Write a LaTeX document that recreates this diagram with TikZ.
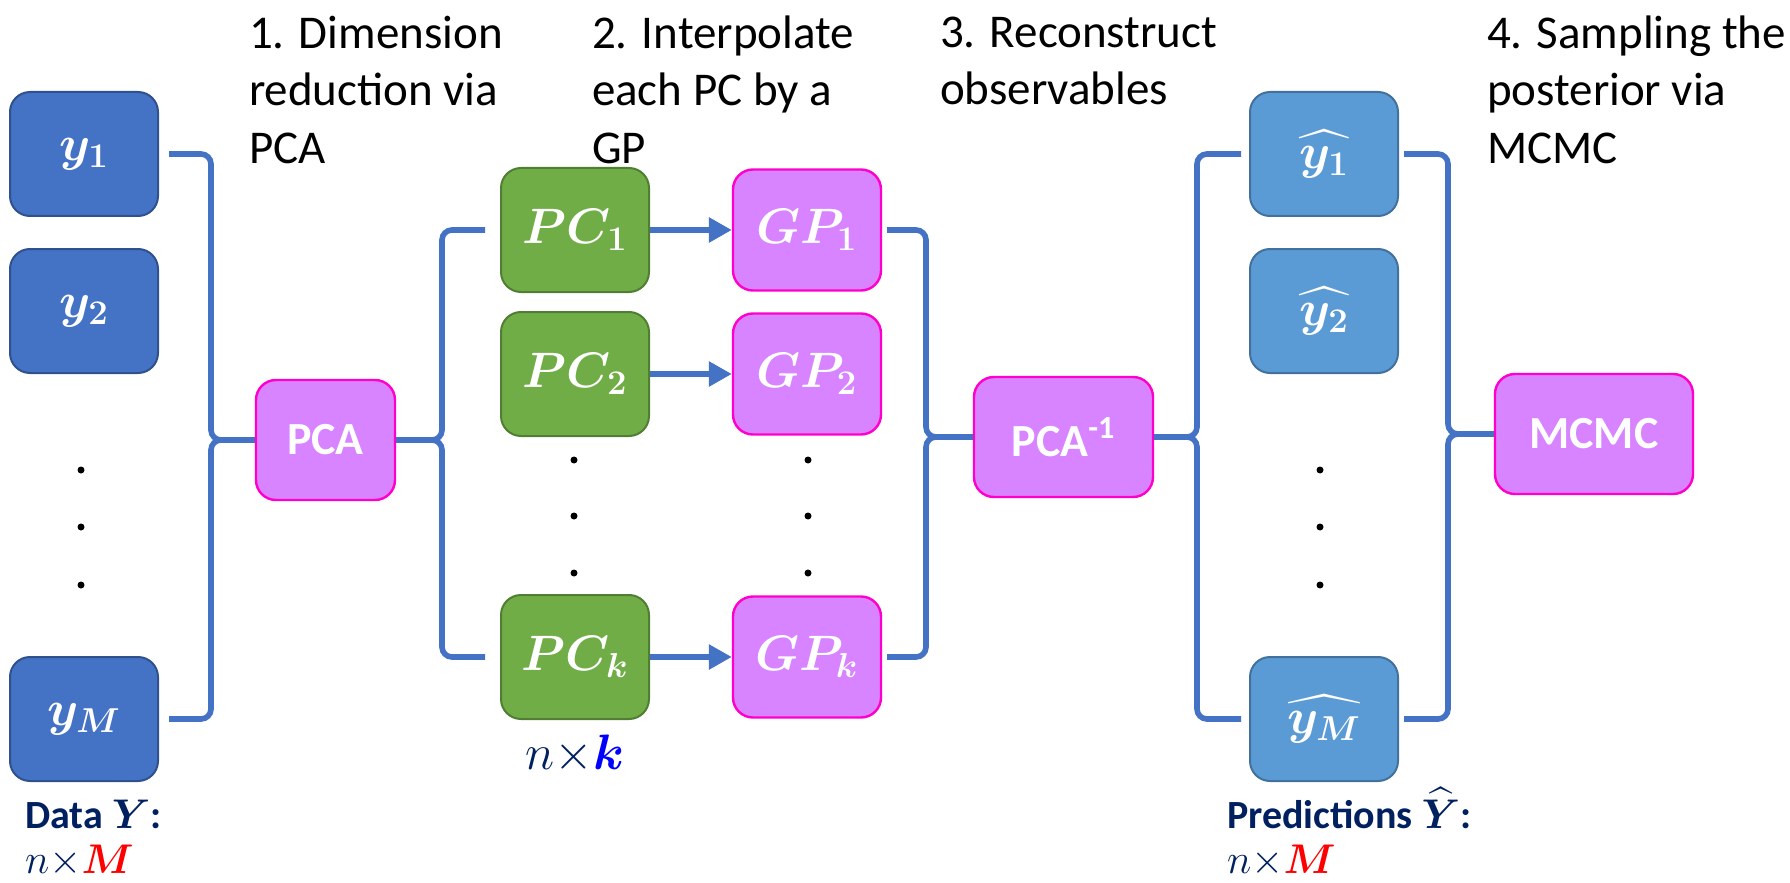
\documentclass[tikz,border=0pt]{standalone}
\usepackage{amsmath}
\usepackage{fontspec}
\setmainfont{Carlito}
\usetikzlibrary{arrows.meta}
\usetikzlibrary{positioning}

\definecolor{datafill}{HTML}{4472C4}
\definecolor{dataline}{HTML}{2F528F}
\definecolor{predfill}{HTML}{5B9BD5}
\definecolor{predline}{HTML}{41719C}
\definecolor{pcfill}{HTML}{70AD47}
\definecolor{pcline}{HTML}{507E32}
\definecolor{procfill}{HTML}{D883FF}
\definecolor{procline}{HTML}{FF00CC}
\definecolor{bracecol}{HTML}{4472C4}
\definecolor{navy}{HTML}{002060}

\tikzset{
    box/.style={rounded corners=10pt, inner sep=0pt, text=white, minimum width=74pt, minimum height=62pt},
    databox/.style={box, draw=dataline, fill=datafill, line width=1pt, font=\boldmath\fontsize{24}{28}\selectfont},
    predbox/.style={box, draw=predline, fill=predfill, line width=1pt, font=\boldmath\fontsize{24}{28}\selectfont},
    pcbox/.style={box, draw=pcline, fill=pcfill, line width=1pt, font=\boldmath\fontsize{24}{28}\selectfont},
    gpbox/.style={box, draw=procline, fill=procfill, line width=1.2pt, minimum height=60.5pt, font=\boldmath\fontsize{24}{28}\selectfont},
    procbox/.style={box, draw=procline, fill=procfill, line width=1.2pt, minimum height=60pt, font=\bfseries\fontsize{23}{28}\selectfont},
    vdot/.style={circle, fill=black, inner sep=0pt, minimum size=3.5pt},
    brace/.style={draw=bracecol, line width=2.8pt, rounded corners=5pt},
    flow/.style={draw=bracecol, line width=3pt, -{Triangle[length=11.5pt,width=12pt]}},
    steptext/.style={anchor=base west, align=left, font=\fontsize{23.5}{28.75}\selectfont},
    dimtext/.style={anchor=base west, align=left, text=navy, font=\fontsize{20}{22.5}\selectfont},
}

\begin{document}
\begin{tikzpicture}[x=0.5pt, y=-0.5pt]
    \useasboundingbox (0,0) rectangle (1790,883);

    % Step titles (placed by their last baseline)
    \node[steptext] (step1) at (242,163) {1. Dimension\\reduction via\\PCA};
    \node[steptext] (step2) at (585,163) {2. Interpolate\\each PC by a\\GP};
    \node[steptext] (step3) at (933,105) {3. Reconstruct\\observables};
    \node[steptext] (step4) at (1480,163) {4. Sampling the\\posterior via\\MCMC};

    % Data
    \node[databox] (y1) at (84,154) {$y_1$};
    \node[databox] (y2) at (84,311) {$y_2$};
    \node[databox] (ym) at (84,719) {$y_M$};
    \foreach \yy [count=\i] in {470,527,585}
        \node[vdot] (ydot\i) at (81,\yy) {};
    \node[dimtext] (ydim) at (18,873) {\textbf{Data $\boldsymbol{Y}$:}\\$n{\times}\textcolor{red}{\boldsymbol{M}}$};

    % PCA
    \node[procbox, minimum width=69.5pt] (pca) at (325.5,440) {PCA};

    % Principal components and GPs
    \node[pcbox] (pc1) at (575,230) {$PC_1$};
    \node[pcbox] (pc2) at (575,374) {$PC_2$};
    \node[pcbox] (pck) at (575,657) {$PC_k$};
    \node[gpbox] (gp1) at (807,230) {$GP_1$};
    \node[gpbox] (gp2) at (807,374) {$GP_2$};
    \node[gpbox] (gpk) at (807,657) {$GP_k$};
    \foreach \yy [count=\i] in {460,516,573} {
        \node[vdot] (pcdot\i) at (574,\yy) {};
        \node[vdot] (gpdot\i) at (808,\yy) {};
    }
    \node[below=4pt of pck, text=navy, font=\fontsize{24}{28}\selectfont] (pcdim) {$n{\times}\textcolor{blue}{\boldsymbol{k}}$};

    % Inverse PCA
    \node[procbox, minimum width=89.5pt] (pcainv) at (1063.5,437) {PCA\textsuperscript{-1}};

    % Predictions
    \node[predbox] (yh1) at (1324,154) {$\widehat{y_1}$};
    \node[predbox] (yh2) at (1324,311) {$\widehat{y_2}$};
    \node[predbox] (yhm) at (1324,719) {$\widehat{y_M}$};
    \foreach \yy [count=\i] in {470,527,585}
        \node[vdot] (yhdot\i) at (1320,\yy) {};
    \node[dimtext] (yhdim) at (1220,873) {\textbf{Predictions $\boldsymbol{\widehat{Y}}$:}\\$n{\times}\textcolor{red}{\boldsymbol{M}}$};

    % MCMC
    \node[procbox, minimum width=99pt] (mcmc) at (1594,434) {MCMC};

    % Brace spines
    \coordinate (s1) at (211,440);
    \coordinate (s2) at (442,440);
    \coordinate (s3) at (926,437);
    \coordinate (s4) at (1197,437);
    \coordinate (s5) at (1448,434);

    % Braces
    \draw[brace, shorten <=5pt] (y1.east) -| (s1) -- (pca.west);
    \draw[brace, shorten <=5pt] (ym.east) -| (s1) -- (pca.west);
    \draw[brace, shorten >=7.5pt] (pca.east) -- (s2) |- (pc1.west);
    \draw[brace, shorten >=7.5pt] (pca.east) -- (s2) |- (pck.west);
    \draw[brace, shorten <=2.5pt] (gp1.east) -| (s3) -- (pcainv.west);
    \draw[brace, shorten <=2.5pt] (gpk.east) -| (s3) -- (pcainv.west);
    \draw[brace, shorten >=4pt] (pcainv.east) -- (s4) |- (yh1.west);
    \draw[brace, shorten >=4pt] (pcainv.east) -- (s4) |- (yhm.west);
    \draw[brace, shorten <=2.5pt] (yh1.east) -| (s5) -- (mcmc.west);
    \draw[brace, shorten <=2.5pt] (yhm.east) -| (s5) -- (mcmc.west);

    % PC to GP
    \draw[flow] (pc1) -- (gp1);
    \draw[flow] (pc2) -- (gp2);
    \draw[flow] (pck) -- (gpk);

\end{tikzpicture}
\end{document}
